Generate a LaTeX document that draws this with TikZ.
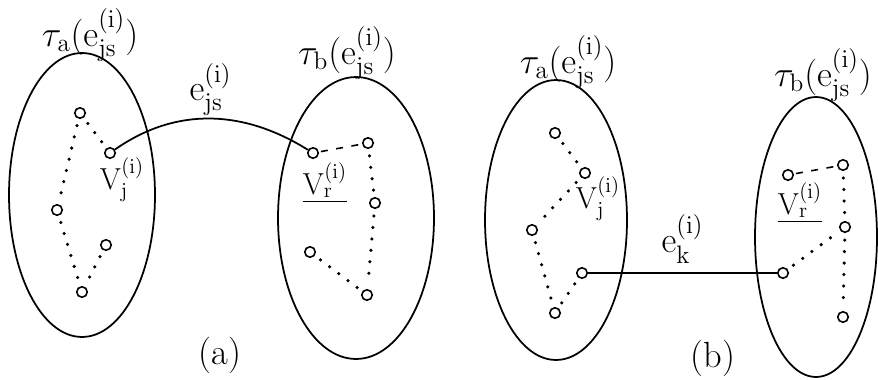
\documentclass[tikz,border=0pt]{standalone}
\usepackage{amsmath, amssymb}
\usepackage{tikz}
\usetikzlibrary{shapes.geometric, arrows.meta, positioning, calc}

\begin{document}
\begin{tikzpicture}[x=0.02cm, y=-0.02cm,
        setbox/.style={draw, ellipse, line width=1pt, inner sep=0pt},
        vtx/.style={draw, circle, line width=0.9pt, inner sep=0pt, minimum size=0.21cm},
        dotline/.style={line width=2pt, line cap=round, dash pattern=on 0pt off 0.23cm, shorten <=0.14cm, shorten >=0.12cm},
        dashline/.style={line width=0.9pt, dash pattern=on 0.14cm off 0.17cm, shorten <=0.04cm},
        edge/.style={line width=1pt},
        lbl/.style={font=\huge, inner sep=0pt},
        caplbl/.style={font=\huge, inner sep=0pt},
        vlbl/.style={font=\LARGE, inner sep=0pt}
    ]
        \useasboundingbox (0,0) rectangle (878,379);

        % Sets
        \node[setbox, minimum width=2.92cm, minimum height=5.68cm] (ta1) at (82,195) {};
        \node[setbox, minimum width=3.12cm, minimum height=5.64cm] (tb1) at (356,218) {};
        \node[setbox, minimum width=2.84cm, minimum height=5.6cm] (ta2) at (556,220) {};
        \node[setbox, minimum width=2.44cm, minimum height=5.6cm] (tb2) at (816,237) {};

        % Set labels
        \node[lbl] at (90,35) {$\tau_{\mathrm{a}}(\mathrm{e}_{\mathrm{js}}^{(\mathrm{i})})$};
        \node[lbl] at (347,53) {$\tau_{\mathrm{b}}(\mathrm{e}_{\mathrm{js}}^{(\mathrm{i})})$};
        \node[lbl] at (568,62) {$\tau_{\mathrm{a}}(\mathrm{e}_{\mathrm{js}}^{(\mathrm{i})})$};
        \node[lbl] at (823,75) {$\tau_{\mathrm{b}}(\mathrm{e}_{\mathrm{js}}^{(\mathrm{i})})$};

        % Vertices (a)
        \node[vtx] (a1) at (80,113) {};
        \node[vtx] (vj1) at (110,153) {};
        \node[vtx] (a3) at (57,210) {};
        \node[vtx] (a4) at (106,245) {};
        \node[vtx] (a5) at (82,292) {};
        \node[vtx] (vr1) at (313,153) {};
        \node[vtx] (b2) at (368,143) {};
        \node[vtx] (b3) at (375,203) {};
        \node[vtx] (b4) at (310,252) {};
        \node[vtx] (b5) at (367,295) {};

        % Vertices (b)
        \node[vtx] (c1) at (555,133) {};
        \node[vtx] (vj2) at (585,173) {};
        \node[vtx] (c3) at (532,230) {};
        \node[vtx] (c4) at (582,273) {};
        \node[vtx] (c5) at (555,313) {};
        \node[vtx] (vr2) at (788,175) {};
        \node[vtx] (d2) at (843,165) {};
        \node[vtx] (d3) at (845,227) {};
        \node[vtx] (d4) at (783,273) {};
        \node[vtx] (d5) at (843,317) {};

        % Vertex labels
        \node[vlbl] at (122,180) {$\mathrm{V}_{\mathrm{j}}^{(\mathrm{i})}$};
        \node[vlbl] at (325,183) {\underline{$\mathrm{V}_{\mathrm{r}}^{(\mathrm{i})}$}};
        \node[vlbl] at (598,199) {$\mathrm{V}_{\mathrm{j}}^{(\mathrm{i})}$};
        \node[vlbl] at (800,203) {\underline{$\mathrm{V}_{\mathrm{r}}^{(\mathrm{i})}$}};

        % Paths inside the sets
        \draw[dotline] (a1) -- (vj1);
        \draw[dotline] (a1) -- (a3);
        \draw[dotline] (a3) -- (a5);
        \draw[dotline] (a4) -- (a5);
        \draw[dashline] (vr1) -- (b2);
        \draw[dotline] (b2) -- (b3);
        \draw[dotline] (b3) -- (b5);
        \draw[dotline] (b4) -- (b5);

        \draw[dotline] (c1) -- (vj2);
        \draw[dotline] (vj2) -- (c3);
        \draw[dotline] (c3) -- (c5);
        \draw[dotline] (c4) -- (c5);
        \draw[dashline] (vr2) -- (d2);
        \draw[dotline] (d2) -- (d3);
        \draw[dotline] (d3) -- (d5);
        \draw[dotline] (d4) -- (d3);

        % Crossing edges
        \draw[edge] (vj1) to[out=35, in=148] node[lbl, above=1pt] {$\mathrm{e}_{\mathrm{js}}^{(\mathrm{i})}$} (vr1);
        \draw[edge] (c4) -- node[lbl, above=5pt] {$\mathrm{e}_{\mathrm{k}}^{(\mathrm{i})}$} (d4);

        % Captions
        \node[caplbl] (capa) at (220,355) {(a)};
        \node[caplbl] (capb) at (713,358) {(b)};
    \end{tikzpicture}
\end{document}
